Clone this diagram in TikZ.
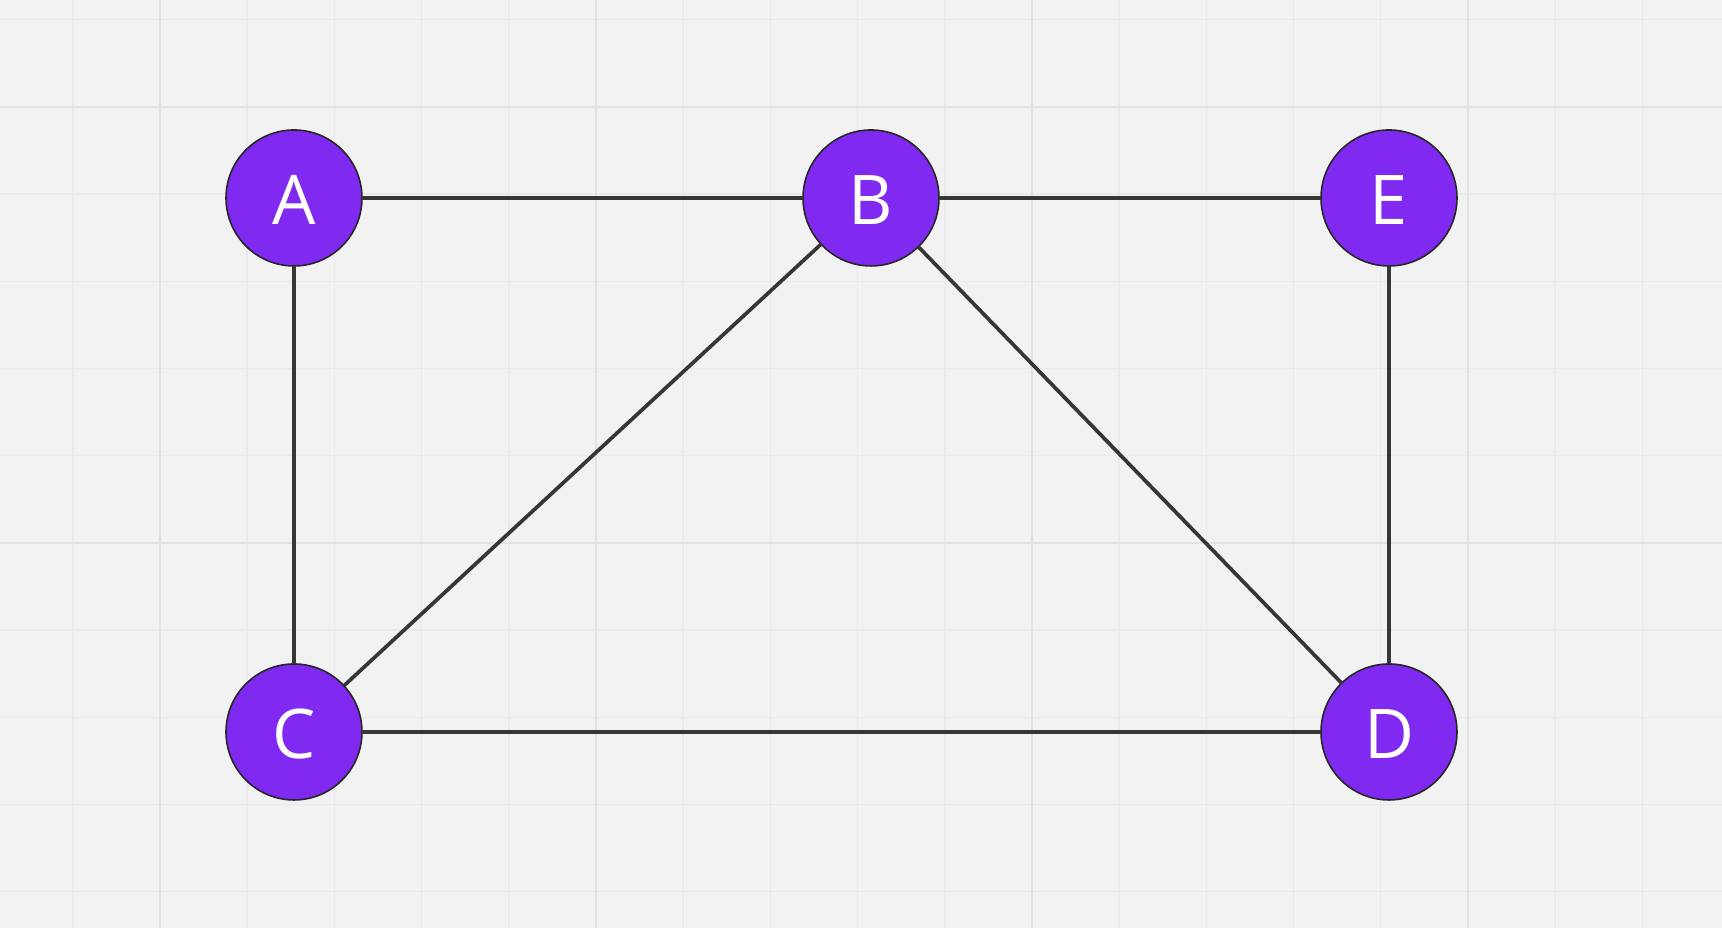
\documentclass[tikz,border=0pt]{standalone}
\usepackage{fontspec}
\setmainfont{Open Sans}
\usetikzlibrary{positioning}
\definecolor{gridbg}{HTML}{F2F2F2}
\definecolor{gridminor}{HTML}{EAEAEA}
\definecolor{gridmajor}{HTML}{E2E2E2}
\definecolor{vertexpurple}{HTML}{8029F0}
\definecolor{edgegray}{HTML}{363636}

\begin{document}
\begin{tikzpicture}[node distance=4mm,
   v/.style={circle,draw=black!85,line width=0.45pt,fill=vertexpurple,
             minimum size=1.36cm,inner sep=0pt,outer sep=0pt,text=white,
             text height=15.2pt,text depth=0pt,
             font=\fontsize{19.5}{23}\selectfont},
   e/.style={draw=edgegray,line width=1.05pt}]
  \useasboundingbox (0,0) rectangle (17.22,9.28);
  % background grid
  \fill[gridbg] (0,0) rectangle (17.22,9.28);
  \foreach \k in {0,...,18}
    \draw[gridminor,line width=0.4pt] (0.728+0.872*\k,0) -- (0.728+0.872*\k,9.28);
  \foreach \k in {0,...,10}
    \draw[gridminor,line width=0.4pt] (0,9.082-0.872*\k) -- (17.22,9.082-0.872*\k);
  \foreach \k in {1,6,11,16}
    \draw[gridmajor,line width=0.55pt] (0.728+0.872*\k,0) -- (0.728+0.872*\k,9.28);
  \foreach \k in {1,6}
    \draw[gridmajor,line width=0.55pt] (0,9.082-0.872*\k) -- (17.22,9.082-0.872*\k);
  % vertices
  \node[v] (A) at (2.94,7.30) {A};
  \node[v,right=4.41cm of A] (B) {B};
  \node[v,right=3.82cm of B] (E) {E};
  \node[v,below=3.98cm of A] (C) {C};
  \node[v,below=3.98cm of E] (D) {D};
  % edges
  \draw[e] (A) -- (B);
  \draw[e] (B) -- (E);
  \draw[e] (A) -- (C);
  \draw[e] (B) -- (C);
  \draw[e] (B) -- (D);
  \draw[e] (E) -- (D);
  \draw[e] (C) -- (D);
\end{tikzpicture}
\end{document}
